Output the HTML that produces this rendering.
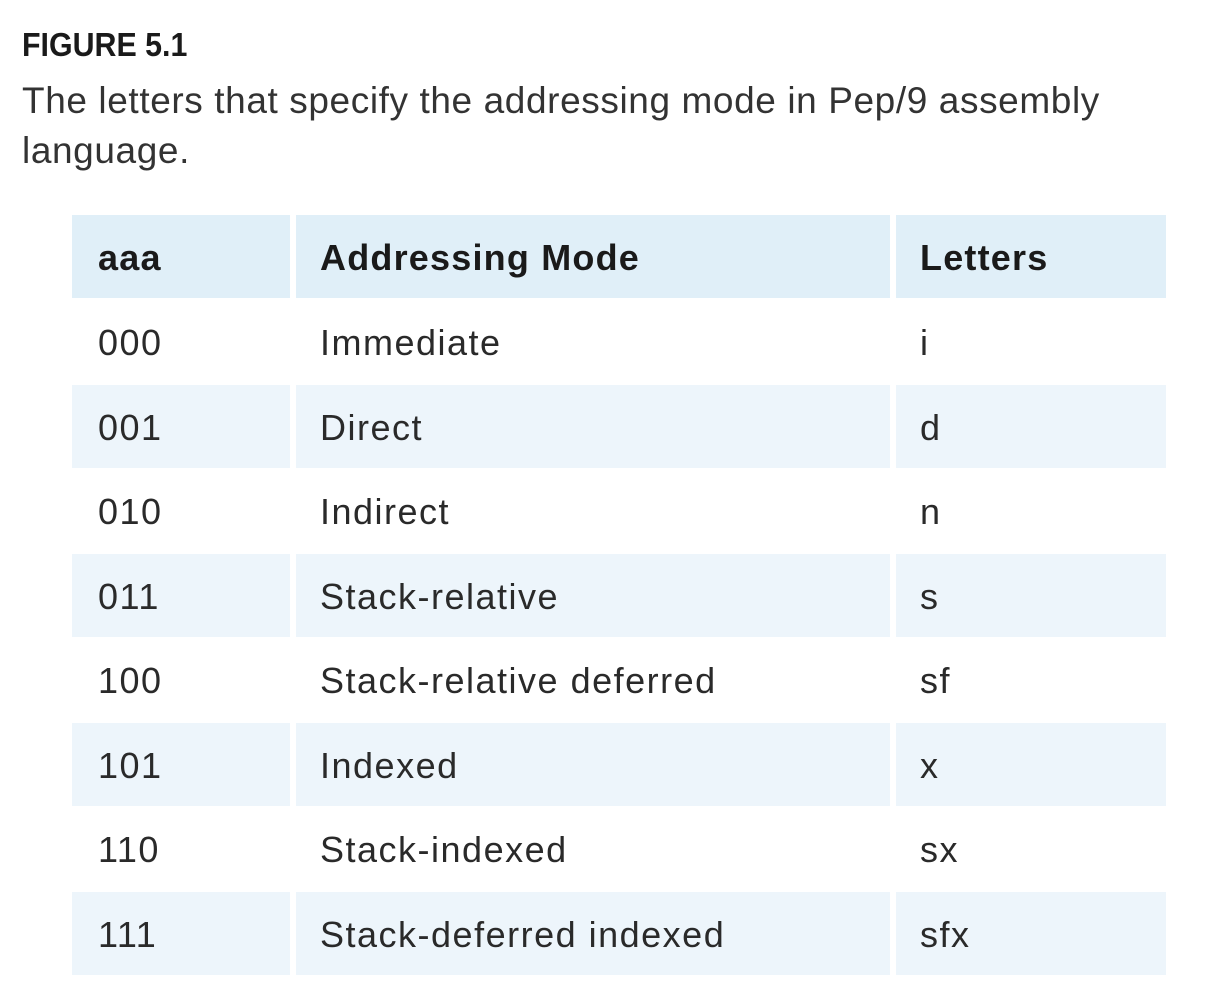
<!DOCTYPE html>
<html><head><style>
body{margin:0;width:1205px;height:1006px;background:#fff;font-family:"Liberation Sans",sans-serif;color:#222;position:relative;overflow:hidden}
.t{position:absolute;left:22px;top:26px;font-weight:bold;font-size:33px;transform:scaleX(0.92);transform-origin:left;color:#1a1a1a}
.c{position:absolute;left:22px;top:76px;font-size:37px;letter-spacing:0.6px;line-height:50px;color:#333}
.r{position:absolute;left:72px;width:1094px;height:83px}
.r div{position:absolute;top:0;height:83px;line-height:86px;font-size:36px;letter-spacing:1.5px;color:#2a2a2a}
.a{left:0;width:218px;padding-left:26px;box-sizing:border-box}
.b{left:224px;width:594px;padding-left:24px;box-sizing:border-box}
.l{left:824px;width:270px;padding-left:24px;box-sizing:border-box}
.h div{background:#e0eff8;font-weight:bold;color:#1a1a1a;letter-spacing:1.2px}
.s div{background:#edf5fb}
</style></head><body>
<div class="t">FIGURE 5.1</div>
<div class="c">The letters that specify the addressing mode in Pep/9 assembly<br>language.</div>
<div class="r h" style="top:215px"><div class="a">aaa</div><div class="b">Addressing Mode</div><div class="l">Letters</div></div>
<div class="r" style="top:300px"><div class="a">000</div><div class="b">Immediate</div><div class="l">i</div></div>
<div class="r s" style="top:385px"><div class="a">001</div><div class="b">Direct</div><div class="l">d</div></div>
<div class="r" style="top:469px"><div class="a">010</div><div class="b">Indirect</div><div class="l">n</div></div>
<div class="r s" style="top:554px"><div class="a">011</div><div class="b">Stack-relative</div><div class="l">s</div></div>
<div class="r" style="top:638px"><div class="a">100</div><div class="b">Stack-relative deferred</div><div class="l">sf</div></div>
<div class="r s" style="top:723px"><div class="a">101</div><div class="b">Indexed</div><div class="l">x</div></div>
<div class="r" style="top:807px"><div class="a">110</div><div class="b">Stack-indexed</div><div class="l">sx</div></div>
<div class="r s" style="top:892px"><div class="a">111</div><div class="b">Stack-deferred indexed</div><div class="l">sfx</div></div>
</body></html>
